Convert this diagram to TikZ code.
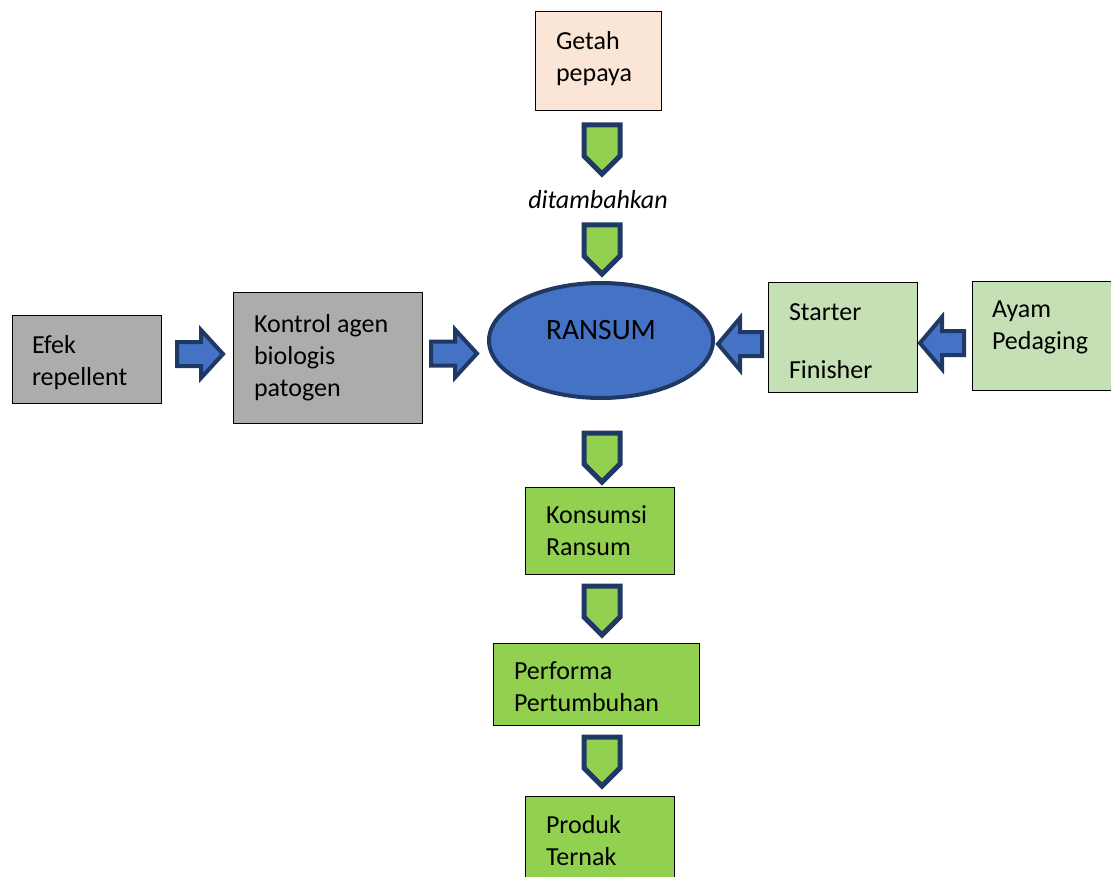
\documentclass[tikz,border=0pt]{standalone}
\usepackage{fontspec}
\setmainfont{Carlito}
\usetikzlibrary{shapes.geometric}
\definecolor{peach}{HTML}{FBE5D6}
\definecolor{greybox}{HTML}{AEABAB}
\definecolor{lightgreen}{HTML}{C5E0B4}
\definecolor{green}{HTML}{92D050}
\definecolor{blue}{HTML}{4472C4}
\definecolor{navy}{HTML}{1F3864}
\tikzset{
  box/.style={draw=black, line width=1pt, rectangle, inner sep=0pt},
  btxt/.style={align=flush left, inner sep=0pt, font=\fontsize{26}{32}\selectfont},
  downarr/.style={fill=green, draw=navy, line width=5pt, line join=miter},
  blkarr/.style={fill=blue, draw=navy, line width=4pt, line join=miter},
  txt/.style={font=\fontsize{26}{32}\selectfont, inner sep=0pt}
}
\newcommand\downpent[1]{%
  \draw[downarr] (584,#1) -- (620,#1) -- (620,#1+31) -- (602,#1+49) -- (584,#1+31) -- cycle;}
\newcommand\blkright[2]{%
  \draw[blkarr] (#1,#2-12) -- (#1+24,#2-12) -- (#1+24,#2-24) -- (#1+46,#2) -- (#1+24,#2+24) -- (#1+24,#2+12) -- (#1,#2+12) -- cycle;}
\newcommand\blkleft[2]{%
  \draw[blkarr] (#1,#2-12) -- (#1-22,#2-12) -- (#1-22,#2-26) -- (#1-44,#2) -- (#1-22,#2+26) -- (#1-22,#2+12) -- (#1,#2+12) -- cycle;}
\begin{document}
\begin{tikzpicture}[x=1pt,y=-1pt]
\useasboundingbox (0,0) rectangle (1111,877);
% boxes
\node[box, fill=peach, minimum width=126pt, minimum height=99pt] (getah) at (598,61.5) {};
\node[btxt, text width=84pt] (getahtxt) at ([yshift=3pt]getah.center) {Getah\\pepaya};
\node[box, fill=greybox, minimum width=149pt, minimum height=87pt] (efek) at (86.5,359.5) {};
\node[btxt, text width=109pt] (efektxt) at ([yshift=-3pt]efek.center) {Efek\\repellent};
\node[box, fill=greybox, minimum width=189pt, minimum height=130pt] (kontrol) at (327.5,358) {};
\node[btxt, text width=147pt] (kontroltxt) at (kontrol.center) {Kontrol agen\\biologis\\patogen};
\node[draw=navy, line width=4pt, fill=blue, ellipse, minimum width=224pt, minimum height=115pt, inner sep=0pt] (ransum) at (601,340.5) {};
\node[txt, font=\fontsize{29.5}{34}\selectfont] (ransumtxt) at ([yshift=10pt]ransum.center) {RANSUM};
\node[box, fill=lightgreen, minimum width=149pt, minimum height=109pt] (starter) at (842.5,337.5) {};
\node[btxt, text width=107pt] (startertxt) at ([yshift=-4pt]starter.center) {Starter\\[26pt]Finisher};
\node[box, fill=lightgreen, minimum width=160pt, minimum height=108pt] (ayam) at (1052,336) {};
\node[btxt, text width=120pt] (ayamtxt) at ([yshift=9pt]ayam.center) {Ayam\\Pedaging};
\node[box, fill=green, minimum width=149pt, minimum height=87pt] (konsumsi) at (599.5,530.5) {};
\node[btxt, text width=107pt] (konsumsitxt) at (konsumsi.center) {Konsumsi\\Ransum};
\node[box, fill=green, minimum width=206pt, minimum height=82pt] (performa) at (596,684) {};
\node[btxt, text width=164pt] (performatxt) at ([yshift=-3pt]performa.center) {Performa\\Pertumbuhan};
\node[box, fill=green, minimum width=149pt, minimum height=90pt] (produk) at (599.5,841) {};
\node[btxt, text width=107pt] (produktxt) at (produk.center) {Produk\\Ternak};
\node[txt, font=\fontsize{26}{32}\selectfont\itshape] (ditambah) at (598,200) {ditambahkan};
% arrows
\downpent{125}
\downpent{225}
\downpent{433}
\downpent{586}
\downpent{737}
\blkright{177}{354}
\blkright{431}{353.5}
\blkleft{762}{344}
\blkleft{964}{343}
\end{tikzpicture}
\end{document}
